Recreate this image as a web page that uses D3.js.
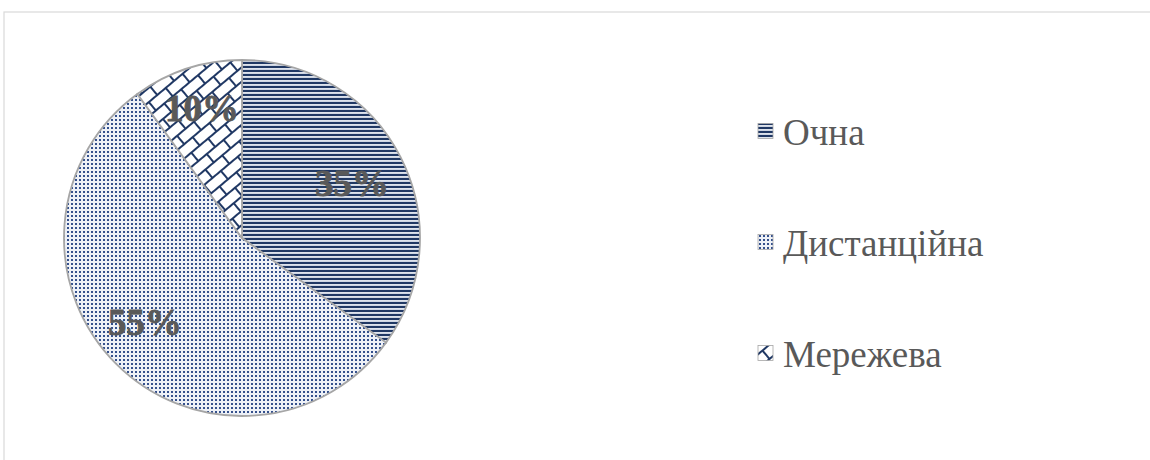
<!DOCTYPE html>
<html>
<head>
<meta charset="utf-8">
<script src="https://cdn.jsdelivr.net/npm/d3@7"></script>
<style>
  body { margin: 0; background: #fff; }
  svg { display: block; }
</style>
</head>
<body>
<svg id="chart"></svg>
<script>
const categories = ["Очна", "Дистанційна", "Мережева"];
const values = [35, 55, 10];
const labels = ["35%", "55%", "10%"];
const patternIds = ["p-horiz", "p-dots", "p-brick"];

const width = 1150;
const height = 460;
const navy = "#203864";

const svg = d3.select("#chart")
  .attr("width", width)
  .attr("height", height);

const defs = svg.append("defs");

// horizontal stripes
const ph = defs.append("pattern")
  .attr("id", "p-horiz")
  .attr("patternUnits", "userSpaceOnUse")
  .attr("width", 8).attr("height", 4);
ph.append("rect").attr("width", 8).attr("height", 4).attr("fill", "#fff");
ph.append("rect").attr("y", 0).attr("width", 8).attr("height", 2).attr("fill", navy);
ph.append("rect").attr("y", 2.6).attr("width", 8).attr("height", 1).attr("fill", "#aebad0");

// dotted grid
const pd = defs.append("pattern")
  .attr("id", "p-dots")
  .attr("patternUnits", "userSpaceOnUse")
  .attr("width", 4).attr("height", 4);
pd.append("rect").attr("width", 4).attr("height", 4).attr("fill", "#eef1f7");
pd.append("rect").attr("x", 1).attr("y", 1).attr("width", 2).attr("height", 2).attr("fill", "#34508c");

// diagonal brick
const pb = defs.append("pattern")
  .attr("id", "p-brick")
  .attr("patternUnits", "userSpaceOnUse")
  .attr("width", 22).attr("height", 22)
  .attr("patternTransform", "rotate(-40)");
pb.append("rect").attr("width", 22).attr("height", 22).attr("fill", "#fff");
pb.append("path")
  .attr("d", "M0,1H22M0,12H22M5,0V12M16,12V22")
  .attr("stroke", navy).attr("stroke-width", 2).attr("fill", "none");

// chart frame
svg.append("rect")
  .attr("x", 4).attr("y", 12)
  .attr("width", width + 10).attr("height", height + 10)
  .attr("fill", "#fff")
  .attr("stroke", "#d9d9d9").attr("stroke-width", 1.2);

// pie
const cx = 242, cy = 238, r = 178;
const pie = d3.pie().sort(null).value(d => d.value);
const arc = d3.arc().innerRadius(0).outerRadius(r);
const data = categories.map((c, i) => ({ name: c, value: values[i], label: labels[i], pat: patternIds[i] }));
const arcs = pie(data);

const g = svg.append("g").attr("transform", `translate(${cx},${cy})`);

g.selectAll("path.slice")
  .data(arcs)
  .join("path")
  .attr("class", "slice")
  .attr("d", arc)
  .attr("fill", d => `url(#${d.data.pat})`)
  .attr("stroke", "#a6a6a6")
  .attr("stroke-width", 1.8);

// label positions as seen in the picture (relative to pie centre)
const labelOffsets = [[352 - cx, 183 - cy], [145 - cx, 322 - cy], [202 - cx, 108 - cy]];

g.selectAll("text.lbl")
  .data(arcs)
  .join("text")
  .attr("class", "lbl")
  .attr("transform", (d, i) => `translate(${labelOffsets[i][0]},${labelOffsets[i][1]})`)
  .attr("text-anchor", "middle")
  .attr("dominant-baseline", "central")
  .attr("font-family", "'Liberation Serif', 'Times New Roman', serif")
  .attr("font-weight", "bold")
  .attr("font-size", 37)
  .attr("fill", "#595959")
  .attr("stroke", "#595959")
  .attr("stroke-width", 0.8)
  .text(d => d.data.label);

// legend
const legY = d3.scalePoint().domain(categories).range([131, 353]);
const item = svg.append("g").selectAll("g")
  .data(data)
  .join("g")
  .attr("transform", d => `translate(758,${legY(d.name)})`);

item.append("rect")
  .attr("x", 0).attr("y", -7.5)
  .attr("width", 15).attr("height", 15)
  .attr("fill", d => `url(#${d.pat})`)
  .attr("stroke", "#a6a6a6").attr("stroke-width", 0.8);

item.append("text")
  .attr("x", 25)
  .attr("y", 1)
  .attr("dominant-baseline", "central")
  .attr("font-family", "'Liberation Serif', 'Times New Roman', serif")
  .attr("font-size", 37)
  .attr("fill", "#595959")
  .text(d => d.name);
</script>
</body>
</html>
